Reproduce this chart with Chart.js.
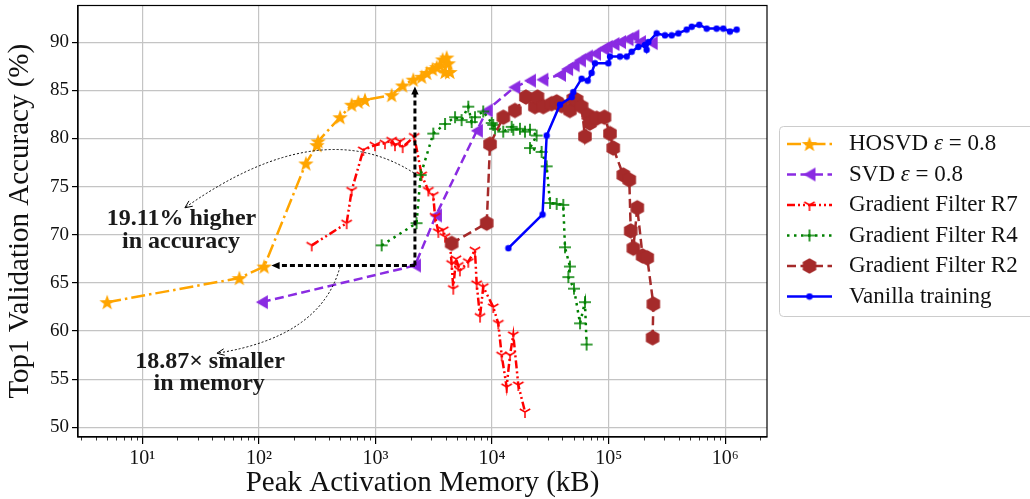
<!DOCTYPE html>
<html lang="en">
<head>
    <meta charset="UTF-8">
    <title>Peak Activation Memory vs Accuracy</title>
    <script src="https://cdn.jsdelivr.net/npm/chart.js"></script>
    <style>
        html, body { margin: 0; padding: 0; background: #fff; overflow: hidden; }
        #wrap { width: 1030px; height: 502px; margin-top: -3px; position: relative; }
    </style>
</head>
<body>
<div id="wrap"><canvas id="memChart"></canvas></div>

<script>
    // series values (memory in kB, top1 accuracy in %)
    const hosvdMem = [5, 68, 111, 253, 315, 322, 497, 625, 713, 813, 1377, 1711, 2110, 2490, 2750, 3090, 3350, 3570, 3770, 3950, 4080, 4210, 4350];
    const hosvdAcc = [63.0, 65.5, 66.7, 77.4, 79.3, 79.7, 82.2, 83.5, 83.8, 84.0, 84.5, 85.5, 86.1, 86.4, 86.8, 87.2, 87.4, 87.6, 88.2, 86.9, 88.4, 87.8, 86.9];

    const svdMem = [106, 2180, 3300, 7400, 9000, 15500, 21100, 27000, 38200, 44000, 50000, 56700, 65000, 76300, 90000, 96200, 110000, 125000, 145000, 162700, 185300, 233600];
    const svdAcc = [63.0, 66.8, 72.0, 80.8, 82.9, 85.3, 86.0, 86.1, 86.6, 87.2, 87.6, 88.1, 88.5, 88.8, 89.3, 89.5, 89.8, 90.0, 90.3, 90.6, 90.0, 89.9];

    const r7Mem = [284, 566, 625, 786, 990, 1206, 1377, 1470, 1622, 1711, 2150, 2490, 2840, 3130, 3240, 3460, 3810, 3950, 4350, 4500, 4650, 4900, 5130, 5300, 6250, 7130, 7380, 7880, 8400, 10230, 11300, 12080, 13330, 14250, 15200, 16790, 19160];
    const r7Acc = [68.9, 71.2, 74.6, 78.8, 79.3, 79.5, 79.8, 79.3, 79.7, 79.1, 80.2, 76.2, 74.6, 74.1, 71.9, 70.3, 70.5, 69.8, 69.1, 67.0, 64.4, 67.5, 66.8, 66.3, 67.2, 68.4, 64.9, 61.5, 64.6, 62.5, 60.8, 57.5, 54.2, 57.5, 59.6, 54.4, 51.6];

    const r4Mem = [1130, 2250, 2440, 3130, 3950, 4810, 5480, 6250, 6680, 7130, 8400, 9930, 10230, 10600, 12470, 14720, 15200, 17340, 19160, 21130, 24100, 21130, 26600, 29400, 31400, 35800, 40800, 42200, 46500, 45100, 50400, 56800, 62600, 64700];
    const r4Acc = [68.9, 71.2, 76.2, 80.5, 81.5, 82.2, 81.9, 83.3, 81.7, 82.2, 82.8, 81.6, 81.4, 81.0, 80.7, 81.2, 80.9, 81.0, 80.7, 80.9, 80.3, 79.0, 78.6, 77.1, 73.3, 73.2, 73.1, 68.7, 66.7, 65.6, 64.4, 60.8, 63.0, 58.6];

    const r2Mem = [4500, 9000, 9600, 12500, 15700, 19500, 23300, 24500, 27500, 32400, 35800, 39500, 46500, 49700, 53100, 58600, 62600, 66800, 69000, 78900, 92000, 102600, 109400, 133400, 150300, 154600, 162700, 175900, 195400, 214100, 241600, 238200];
    const r2Acc = [69.1, 71.2, 79.4, 82.2, 82.9, 84.3, 83.3, 84.3, 83.3, 83.6, 83.8, 83.4, 82.9, 84.1, 84.0, 83.3, 80.2, 82.4, 81.6, 82.1, 82.2, 80.5, 79.0, 76.2, 75.7, 70.4, 68.6, 72.8, 67.8, 67.6, 62.8, 59.3];

    const vanillaMem = [13800, 27100, 29400, 38200, 48200, 49700, 58600, 66000, 71400, 76300, 99300, 102600, 125000, 142800, 157400, 179400, 204700, 211600, 218800, 258000, 304000, 346900, 395700, 466700, 515300, 598800, 692200, 843000, 961500, 1096000, 1252000];
    const vanillaAcc = [68.6, 72.1, 80.3, 83.5, 84.3, 84.8, 86.2, 86.0, 86.8, 87.8, 87.8, 88.5, 88.5, 88.5, 89.0, 89.5, 89.7, 89.2, 90.0, 90.9, 90.7, 90.7, 90.9, 91.3, 91.6, 91.8, 91.4, 91.4, 91.4, 91.1, 91.3];

    const seriesNames = ['HOSVD ε = 0.8', 'SVD ε = 0.8', 'Gradient Filter R7', 'Gradient Filter R4', 'Gradient Filter R2', 'Vanilla training'];

    // tick labels
    const xTickValues = [10, 100, 1000, 10000, 100000, 1000000];
    const xTickLabels = ['10¹', '10²', '10³', '10⁴', '10⁵', '10⁶'];
    const yTickValues = [50, 55, 60, 65, 70, 75, 80, 85, 90];

    // annotation anchors (data units)
    const gapCorner = [2180, 66.8];
    const gapTop = [2180, 85.4];
    const gapLeft = [128, 66.8];
    const accArrow = [[2140, 76.4], [334, 82.7], [23.2, 72.8]];
    const memArrow = [[497, 66.7], [344, 59.4], [43.7, 57.7]];
    const notes = [
        ['19.11% higher', 21.7, 71.7],
        ['in accuracy', 21.5, 69.3],
        ['18.87× smaller', 38.1, 56.8],
        ['in memory', 37.5, 54.5]
    ];

    const serif = '"Liberation Serif", "DejaVu Serif", serif';
    const shiftY = 3; // canvas sits 3px above the page top

    function makeMarker(w, h, draw) {
        const c = document.createElement('canvas');
        c.width = w;
        c.height = h;
        draw(c.getContext('2d'));
        return c;
    }

    const starMarker = makeMarker(18, 18, g => {
        g.fillStyle = 'orange';
        g.beginPath();
        for (let i = 0; i < 10; i++) {
            const r = i % 2 === 0 ? 8.2 : 3.3;
            const a = -Math.PI / 2 + i * Math.PI / 5;
            g.lineTo(9 + r * Math.cos(a), 9.7 + r * Math.sin(a));
        }
        g.closePath();
        g.fill();
    });

    const triLeftMarker = makeMarker(14, 16, g => {
        g.fillStyle = '#8a2be2';
        g.beginPath();
        g.moveTo(1, 8);
        g.lineTo(13, 1);
        g.lineTo(13, 15);
        g.closePath();
        g.fill();
    });

    const triDownMarker = makeMarker(14, 14, g => {
        g.strokeStyle = 'red';
        g.lineWidth = 1.5;
        g.beginPath();
        g.moveTo(7, 7); g.lineTo(7, 13);
        g.moveTo(7, 7); g.lineTo(7 - 5.2, 4);
        g.moveTo(7, 7); g.lineTo(7 + 5.2, 4);
        g.stroke();
    });

    const plusMarker = makeMarker(14, 14, g => {
        g.strokeStyle = 'green';
        g.lineWidth = 1.6;
        g.beginPath();
        g.moveTo(1, 7); g.lineTo(13, 7);
        g.moveTo(7, 1); g.lineTo(7, 13);
        g.stroke();
    });

    const hexMarker = makeMarker(18, 18, g => {
        g.fillStyle = '#a52a2a';
        g.beginPath();
        for (let i = 0; i < 6; i++) {
            const a = -Math.PI / 2 + i * Math.PI / 3;
            g.lineTo(9 + 7.8 * Math.cos(a), 9 + 7.8 * Math.sin(a));
        }
        g.closePath();
        g.fill();
    });

    const dotMarker = makeMarker(8, 8, g => {
        g.fillStyle = 'blue';
        g.beginPath();
        g.arc(4, 4, 3.2, 0, Math.PI * 2);
        g.fill();
    });

    function pairs(xs, ys) {
        return xs.map((x, i) => ({ x: x, y: ys[i] }));
    }

    const styles = [
        { color: 'orange', dash: [14, 4, 2.5, 4], marker: starMarker },
        { color: '#8a2be2', dash: [9, 4.5], marker: triLeftMarker },
        { color: 'red', dash: [8, 3, 2, 3, 2, 3], marker: triDownMarker },
        { color: 'green', dash: [2.5, 4.5], marker: plusMarker },
        { color: '#a52a2a', dash: [9, 4.5], marker: hexMarker },
        { color: 'blue', dash: [], marker: dotMarker }
    ];

    const seriesData = [
        pairs(hosvdMem, hosvdAcc),
        pairs(svdMem, svdAcc),
        pairs(r7Mem, r7Acc),
        pairs(r4Mem, r4Acc),
        pairs(r2Mem, r2Acc),
        pairs(vanillaMem, vanillaAcc)
    ];

    const datasets = seriesData.map((d, i) => ({
        label: seriesNames[i],
        data: d,
        borderColor: styles[i].color,
        backgroundColor: styles[i].color,
        borderDash: styles[i].dash,
        borderWidth: 2.5,
        pointStyle: styles[i].marker,
        pointRadius: 6,
        pointHoverRadius: 6,
        showLine: true,
        fill: false,
        tension: 0,
        order: 6 - i
    }));

    function isDecade(v) {
        const l = Math.log10(v);
        return Math.abs(l - Math.round(l)) < 1e-9;
    }

    function arrowHead(ctx, tipX, tipY, ang, len, filled) {
        const a1 = ang + Math.PI - 0.42;
        const a2 = ang + Math.PI + 0.42;
        ctx.beginPath();
        if (filled) {
            ctx.moveTo(tipX, tipY);
            ctx.lineTo(tipX + len * Math.cos(a1), tipY + len * Math.sin(a1));
            ctx.lineTo(tipX + len * Math.cos(a2), tipY + len * Math.sin(a2));
            ctx.closePath();
            ctx.fill();
        } else {
            ctx.moveTo(tipX + len * Math.cos(a1), tipY + len * Math.sin(a1));
            ctx.lineTo(tipX, tipY);
            ctx.lineTo(tipX + len * Math.cos(a2), tipY + len * Math.sin(a2));
            ctx.stroke();
        }
    }

    const annotationPlugin = {
        id: 'notes',
        afterDatasetsDraw(chart) {
            const ctx = chart.ctx;
            const sx = chart.scales.x, sy = chart.scales.y;
            const px = p => [sx.getPixelForValue(p[0]), sy.getPixelForValue(p[1])];
            ctx.save();

            // thick dotted L arrow
            const c = px(gapCorner), t = px(gapTop), l = px(gapLeft);
            ctx.strokeStyle = '#000';
            ctx.fillStyle = '#000';
            ctx.lineWidth = 3;
            ctx.setLineDash([5, 3]);
            ctx.beginPath();
            ctx.moveTo(c[0], c[1]);
            ctx.lineTo(t[0], t[1] + 6);
            ctx.moveTo(c[0], c[1]);
            ctx.lineTo(l[0] + 6, l[1]);
            ctx.stroke();
            ctx.setLineDash([]);
            arrowHead(ctx, t[0], t[1], -Math.PI / 2, 9, true);
            arrowHead(ctx, l[0], l[1], Math.PI, 9, true);

            // thin curved arrows
            ctx.lineWidth = 1;
            [accArrow, memArrow].forEach(arr => {
                const p0 = px(arr[0]), pc = px(arr[1]), p2 = px(arr[2]);
                ctx.setLineDash([2, 2]);
                ctx.beginPath();
                ctx.moveTo(p0[0], p0[1]);
                ctx.quadraticCurveTo(pc[0], pc[1], p2[0], p2[1]);
                ctx.stroke();
                ctx.setLineDash([]);
                const ang = Math.atan2(p2[1] - pc[1], p2[0] - pc[0]);
                arrowHead(ctx, p2[0], p2[1], ang, 8, false);
            });

            // labels
            ctx.fillStyle = '#1a1a1a';
            ctx.font = 'bold 24px ' + serif;
            ctx.textAlign = 'center';
            ctx.textBaseline = 'middle';
            notes.forEach(n => {
                const p = px([n[1], n[2]]);
                ctx.fillText(n[0], p[0], p[1]);
            });
            ctx.restore();
        },
        afterDraw(chart) {
            const ctx = chart.ctx;
            const area = chart.chartArea;
            const sx = chart.scales.x;
            ctx.save();

            // frame
            ctx.strokeStyle = '#000';
            ctx.lineWidth = 1.2;
            ctx.strokeRect(area.left, area.top, area.right - area.left, area.bottom - area.top);

            // minor log ticks
            ctx.lineWidth = 0.8;
            ctx.beginPath();
            for (let e = 0; e <= 6; e++) {
                for (let m = 2; m <= 9; m++) {
                    const v = m * Math.pow(10, e);
                    if (v < sx.min || v > sx.max) continue;
                    const x = Math.round(sx.getPixelForValue(v)) + 0.5;
                    ctx.moveTo(x, area.bottom);
                    ctx.lineTo(x, area.bottom + 3.5);
                }
            }
            ctx.stroke();

            // legend
            const lx = 779, ly = 126.5 + shiftY, lw = 262, lh = 190;
            ctx.fillStyle = 'rgba(255,255,255,0.85)';
            ctx.strokeStyle = '#cccccc';
            ctx.lineWidth = 1;
            ctx.beginPath();
            ctx.roundRect(lx + 0.5, ly, lw, lh, 4);
            ctx.fill();
            ctx.stroke();

            seriesNames.forEach((name, i) => {
                const y = 144 + shiftY + i * 30.5;
                const st = styles[i];
                ctx.strokeStyle = st.color;
                ctx.lineWidth = 2.5;
                ctx.setLineDash(st.dash);
                ctx.beginPath();
                ctx.moveTo(787, y);
                ctx.lineTo(832, y);
                ctx.stroke();
                ctx.setLineDash([]);
                const mk = st.marker;
                ctx.drawImage(mk, 809.5 - mk.width / 2, y - mk.height / 2);

                ctx.fillStyle = '#111';
                ctx.textAlign = 'left';
                ctx.textBaseline = 'middle';
                let x = 849;
                if (name.indexOf('ε') >= 0) {
                    const parts = name.split('ε');
                    ctx.font = '23px ' + serif;
                    ctx.fillText(parts[0], x, y);
                    x += ctx.measureText(parts[0]).width;
                    ctx.font = 'italic 23px ' + serif;
                    ctx.fillText('ε', x, y);
                    x += ctx.measureText('ε').width;
                    ctx.font = '23px ' + serif;
                    ctx.fillText(parts[1], x, y);
                } else {
                    ctx.font = '23px ' + serif;
                    ctx.fillText(name, x, y);
                }
            });
            ctx.restore();
        }
    };

    const ctx = document.getElementById('memChart').getContext('2d');
    new Chart(ctx, {
        type: 'line',
        data: { datasets: datasets },
        plugins: [annotationPlugin],
        options: {
            responsive: true,
            maintainAspectRatio: false,
            animation: false,
            layout: { padding: { top: 2.5, right: 263, bottom: 0, left: 0 } },
            plugins: {
                legend: { display: false },
                tooltip: { enabled: false }
            },
            scales: {
                x: {
                    type: 'logarithmic',
                    min: 2.81,
                    max: 2280000,
                    afterFit: s => { s.height = 62; s.paddingLeft = 0; s.paddingRight = 0; },
                    afterBuildTicks: s => { s.ticks = xTickValues.map(v => ({ value: v })); },
                    ticks: {
                        autoSkip: false,
                        maxRotation: 0,
                        padding: 3,
                        color: '#111',
                        font: { family: serif, size: 20 },
                        callback: v => {
                            const i = xTickValues.indexOf(v);
                            return i >= 0 ? xTickLabels[i] : '';
                        }
                    },
                    grid: {
                        color: c => (c.tick && isDecade(c.tick.value)) ? '#c4c4c4' : 'rgba(0,0,0,0)',
                        lineWidth: 1.2,
                        tickColor: '#000',
                        tickLength: 7
                    },
                    border: { color: '#000', width: 1.2 },
                    title: {
                        display: true,
                        text: 'Peak Activation Memory (kB)',
                        color: '#111',
                        font: { family: serif, size: 29, lineHeight: 1 },
                        padding: { top: 0, bottom: 1 }
                    }
                },
                y: {
                    min: 49,
                    max: 93.8,
                    afterFit: s => { s.width = 78; s.paddingTop = 0; s.paddingBottom = 0; },
                    afterBuildTicks: s => { s.ticks = yTickValues.map(v => ({ value: v })); },
                    ticks: {
                        padding: 3,
                        color: '#111',
                        font: { family: serif, size: 19 }
                    },
                    grid: {
                        color: '#c4c4c4',
                        lineWidth: 1.2,
                        tickColor: '#000',
                        tickLength: 6
                    },
                    border: { color: '#000', width: 1.2 },
                    title: {
                        display: true,
                        text: 'Top1 Validation Accuracy (%)',
                        color: '#111',
                        font: { family: serif, size: 29, lineHeight: 1 },
                        padding: { top: 6, bottom: 0 }
                    }
                }
            }
        }
    });
</script>
</body>
</html>
